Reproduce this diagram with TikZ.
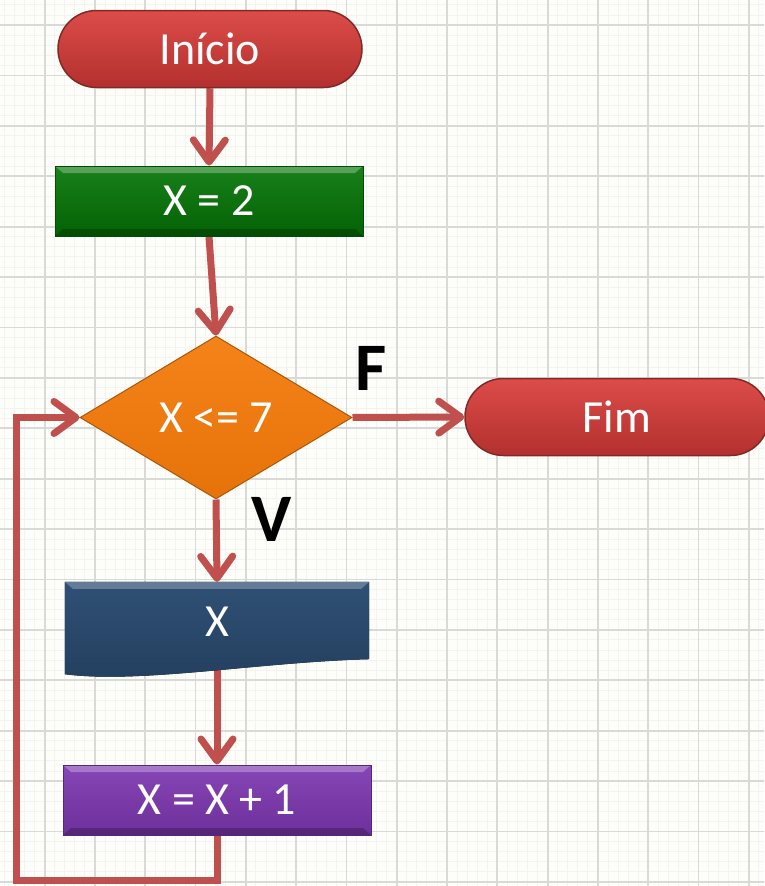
\documentclass[tikz,border=0pt]{standalone}
\usepackage{fontspec}
\setmainfont{Carlito}
\usetikzlibrary{shapes.geometric,shapes.misc,arrows.meta}
\definecolor{bgc}{HTML}{FDFEFA}
\definecolor{gridc}{HTML}{D9DAD7}
\definecolor{gridm}{HTML}{F3F4F0}
\definecolor{arrowc}{HTML}{C0504D}
\definecolor{pilltop}{HTML}{DC4C49}
\definecolor{pillbot}{HTML}{B3302E}
\definecolor{pillborder}{HTML}{7F2A27}
\definecolor{greentop}{HTML}{18801A}
\definecolor{greenbot}{HTML}{056205}
\definecolor{orangetop}{HTML}{F4831A}
\definecolor{orangebot}{HTML}{E6730A}
\definecolor{navytop}{HTML}{2F5075}
\definecolor{navybot}{HTML}{243F5E}
\definecolor{purptop}{HTML}{8646B6}
\definecolor{purpbot}{HTML}{6E309B}
\pgfdeclarelayer{grid}
\pgfdeclarelayer{conns}
\pgfdeclarelayer{docfill}
\pgfsetlayers{grid,conns,docfill,main}
\begin{document}
\begin{tikzpicture}[x=1pt,y=-1pt,
  lbl/.style={text=white,font=\fontsize{46}{50}\selectfont},
  pill/.style={rounded rectangle, draw=pillborder, line width=1.5pt,
    top color=pilltop, bottom color=pillbot, minimum width=304pt,
    minimum height=77pt, inner sep=0pt, lbl},
  bevel/.style={path picture={
    \fill[white,opacity=.28] (path picture bounding box.north west) -- (path picture bounding box.north east)
      -- ([xshift=-8pt,yshift=-7pt]path picture bounding box.north east)
      -- ([xshift=8pt,yshift=-7pt]path picture bounding box.north west) -- cycle;
    \fill[black,opacity=.22] (path picture bounding box.south west) -- (path picture bounding box.south east)
      -- ([xshift=-8pt,yshift=7pt]path picture bounding box.south east)
      -- ([xshift=8pt,yshift=7pt]path picture bounding box.south west) -- cycle;}},
  box/.style={rectangle, minimum width=308pt, minimum height=70pt, inner sep=0pt, lbl, bevel},
  flag/.style={font=\bfseries\fontsize{68}{72}\selectfont, text=black},
  conn/.style={draw=arrowc, line width=7pt, -{Straight Barb[length=22pt,width=32pt,round]}}
]
\useasboundingbox (0,0) rectangle (764,886);
\begin{pgfonlayer}{grid}
  \fill[bgc] (0,0) rectangle (764,886);
  \foreach \i in {0,...,80} \draw[gridm, line width=0.8pt] ({-5.7+10.06*\i},0) -- ++(0,886);
  \foreach \j in {0,...,90} \draw[gridm, line width=0.8pt] (0,{25+10.08*(\j-3)}) -- ++(764,0);
  \foreach \i in {0,...,16} \draw[gridc, line width=1.8pt] ({-5.7+50.3*\i},0) -- ++(0,886);
  \foreach \j in {0,...,17} \draw[gridc, line width=1.8pt] (0,{25+50.4*\j}) -- ++(764,0);
\end{pgfonlayer}

\node[pill] (start) at (210,49) {Início};
\node[box, top color=greentop, bottom color=greenbot, draw=greenbot!80!black, line width=1pt] (init) at (209,201) {X = 2};
\node[diamond, minimum width=272pt, minimum height=163pt, inner sep=0pt, lbl,
  top color=orangetop, bottom color=orangebot, draw=orangebot!75!black, line width=1pt] (cond) at (216,417.5) {X <= 7};
\node[pill] (end) at (617,417) {Fim};
\node[lbl, minimum width=304pt, minimum height=80pt, inner sep=0pt] (out) at (217,622) {X};
\node[box, top color=purptop, bottom color=purpbot, draw=purpbot!80!black, line width=1pt] (inc) at (217,800) {X = X + 1};
\node[flag] (flabel) at (371,368) {F};
\node[flag] (vlabel) at (272,519) {V};

\begin{pgfonlayer}{docfill}
  \fill[top color=navytop, bottom color=navybot] (out.north west) -- (out.north east)
    -- ([yshift=3pt]out.south east) .. controls (260,662) and (140,684) .. ([yshift=-12pt]out.south west) -- cycle;
  \fill[white,opacity=.25] (out.north west) -- (out.north east) -- ([xshift=-8pt,yshift=-7pt]out.north east)
    -- ([xshift=8pt,yshift=-7pt]out.north west) -- cycle;
\end{pgfonlayer}

\begin{pgfonlayer}{conns}
  \coordinate (lp) at (16,880);
  \draw[conn] (start.south) -- (init.north);
  \draw[conn] (init.south) -- (cond.north);
  \draw[conn] (cond.east) -- (end.west);
  \draw[conn] (cond.south) -- (out.north);
  \draw[conn] (out.south) -- (inc.north);
  \draw[conn] (inc.south) |- (lp) |- (cond.west);
\end{pgfonlayer}
\end{tikzpicture}
\end{document}
